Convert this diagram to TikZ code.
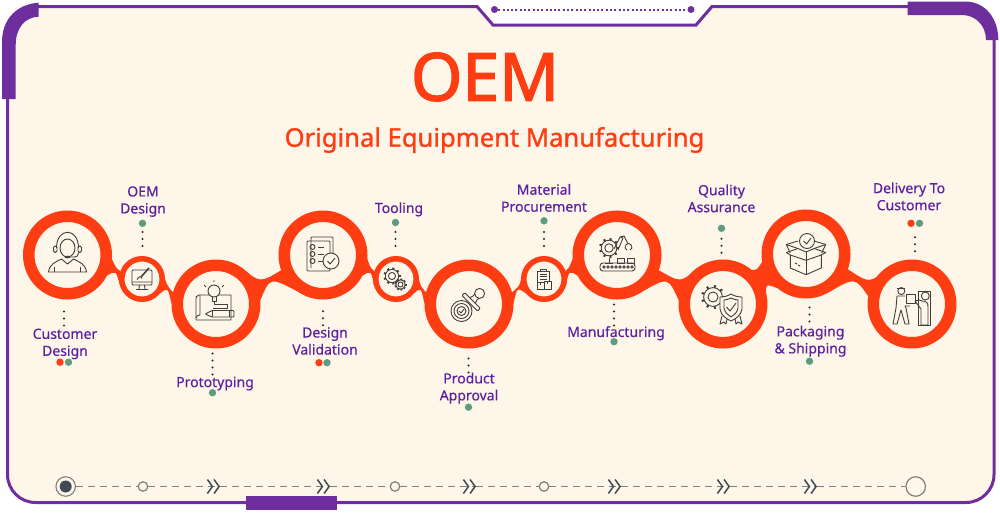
\documentclass[tikz,border=0pt]{standalone}
\usepackage{fontspec}
\usepackage{tikz}
\usetikzlibrary{arrows.meta, positioning, backgrounds}
\setmainfont{Noto Sans}
\newfontfamily\lblfont[FakeBold=0.45]{Noto Sans}
\newfontfamily\titlefont[FakeBold=2.2]{Noto Sans}
\newfontfamily\subtitlefont[FakeBold=1.1]{Noto Sans}
\definecolor{RingRed}{HTML}{FF3D12}
\definecolor{FramePurple}{HTML}{6E2E9E}
\definecolor{TextPurple}{HTML}{5B21A0}
\definecolor{SoftCream}{HTML}{FEF6E8}
\definecolor{DotGreen}{HTML}{5E9C82}
\definecolor{IconGray}{HTML}{3F3F3F}
\definecolor{TrackGray}{HTML}{7F7F7F}
\definecolor{TrackDark}{HTML}{3F4A55}
\tikzset{
  bigring/.style={circle, draw=RingRed, fill=SoftCream, line width=11.5pt, minimum size=77.5pt, inner sep=0pt},
  smallring/.style={circle, draw=RingRed, fill=SoftCream, line width=5.5pt, minimum size=40.5pt, inner sep=0pt},
  neck/.style={fill=RingRed},
  lbl/.style={text=TextPurple, align=center, inner sep=0pt, font=\lblfont\fontsize{14}{17}\selectfont},
  greendot/.style={circle, fill=DotGreen, minimum size=7.4pt, inner sep=0pt},
  reddot/.style={circle, fill=RingRed, minimum size=7.4pt, inner sep=0pt},
  dotlink/.style={line width=2.3pt, line cap=round, dash pattern=on 0pt off 7pt, black!85},
  icon/.style={draw=IconGray, line width=0.9pt, line join=round},
  framepath/.style={draw=FramePurple, line width=3pt, fill=SoftCream},
  trackline/.style={TrackGray, line width=1.8pt, dash pattern=on 7pt off 5pt},
  chevron/.style={-{Straight Barb[length=5pt, width=14pt, line width=1.5pt, color=TrackDark] Straight Barb[length=5pt, width=14pt, line width=1.5pt, color=TrackDark]}},
  tracknode/.style={circle, draw=TrackGray, fill=SoftCream, line width=1.2pt, minimum size=9.5pt, inner sep=0pt},
  pics/cog/.style={code={
    \draw[icon] (0,0) circle ({#1*.42});
    \draw[icon] (0,0) circle ({#1*.78});
    \foreach \a in {0,40,...,320} \draw[IconGray, line width=2pt] (\a:{#1*.78}) -- (\a:{#1});
  }}
}
\newcommand{\neckfill}[8]{\fill[neck] (#1.#3) .. controls #5 .. (#2.#4) -- (#2.#6) .. controls #8 .. (#1.#7) -- cycle;}
\begin{document}
\begin{tikzpicture}[x=1pt, y=-1pt]
  \useasboundingbox (0,0) rectangle (1000,512);
  \node[bigring] (cust) at (67.5,255) {};
  \node[smallring] (oem) at (142,279) {};
  \node[bigring] (proto) at (216,304) {};
  \node[bigring] (dv) at (323,255) {};
  \node[smallring] (tool) at (396,279) {};
  \node[bigring] (prod) at (469,304) {};
  \node[smallring] (mat) at (544,279) {};
  \node[bigring] (manuf) at (617,255) {};
  \node[bigring] (qa) at (723,304) {};
  \node[bigring] (pack) at (806,254) {};
  \node[bigring] (del) at (912,304) {};

  \begin{scope}[on background layer]
    \draw[framepath] (477,6.5) -- (493,25) -- (696,25) -- (712,6.5) [rounded corners=28pt] -- (994,6.5) -- (994,502.5) -- (7.5,502.5) -- (7.5,6.5) [sharp corners] -- (477,6.5) -- cycle;
    \neckfill{cust}{oem}{-5}{160}{(116,268)}{200}{-28}{(116,270)}
    \neckfill{oem}{proto}{0}{165}{(167.5,286)}{180}{-40}{(168,287)}
    \neckfill{proto}{dv}{55}{200}{(260,283)}{-125}{5}{(270,277)}
    \neckfill{dv}{tool}{-5}{160}{(370.5,268)}{200}{-28}{(371,270)}
    \neckfill{tool}{prod}{0}{165}{(420.5,286)}{180}{-40}{(421,287)}
    \neckfill{prod}{mat}{15}{180}{(519.5,286)}{220}{0}{(517,287)}
    \neckfill{mat}{manuf}{20}{185}{(569,268)}{208}{-20}{(569,270)}
    \neckfill{manuf}{qa}{-20}{125}{(681,283)}{175}{-55}{(668,277)}
    \neckfill{qa}{pack}{50}{190}{(757,270)}{-130}{15}{(766,284)}
    \neckfill{pack}{del}{-20}{120}{(870,284)}{170}{-60}{(855,277)}
  \end{scope}

  % frame pieces
  \fill[FramePurple] (2,99) -- (2,42) .. controls (2,18) and (18,4) .. (38.7,2.7) -- (38.7,16.7) .. controls (25,17) and (15.7,28) .. (15.7,45) -- (15.7,99) -- cycle;
  \fill[FramePurple] (907.7,1.5) -- (965,1.5) .. controls (985,1.5) and (998.3,18) .. (998.3,40) -- (986,40) .. controls (986,25) and (975,15) .. (962,15) -- (907.7,15) -- cycle;
  \fill[FramePurple] (246,496) rectangle (337,510);
  \node[circle, fill=FramePurple, minimum size=7pt, inner sep=0pt] (notchl) at (494.5,9.5) {};
  \node[circle, fill=FramePurple, minimum size=7pt, inner sep=0pt] (notchr) at (691,9.5) {};
  \draw[FramePurple, line width=2pt, dash pattern=on 2pt off 2.3pt] (notchl) -- (notchr);

  \node[text=RingRed, inner sep=0pt, font=\titlefont\fontsize{66}{66}\selectfont] (title) at (485,77) {OEM};
  \node[text=RingRed, inner sep=0pt, font=\subtitlefont\fontsize{25.6}{28}\selectfont] (subtitle) at (494.5,140) {Original Equipment Manufacturing};

  \node[lbl, below=29pt of cust.south, xshift=-2.5pt] (lcust) {Customer\\Design};
  \node[lbl, above=39pt of oem.north, xshift=1pt] (loem) {OEM\\Design};
  \node[lbl, below=28pt of proto.south, xshift=-1pt] (lproto) {Prototyping};
  \node[lbl, below=27.5pt of dv.south, xshift=2pt] (ldv) {Design\\Validation};
  \node[lbl, above=39.5pt of tool.north, xshift=3pt] (ltool) {Tooling};
  \node[lbl, below=24pt of prod.south] (lprod) {Product\\Approval};
  \node[lbl, above=44pt of mat.north] (lmat) {Material\\Procurement};
  \node[lbl, below=26.5pt of manuf.south, xshift=-1pt] (lmanuf) {Manufacturing};
  \node[lbl, above=47pt of qa.north, xshift=-1.5pt] (lqa) {Quality\\Assurance};
  \node[lbl, below=27pt of pack.south, xshift=4.5pt] (lpack) {Packaging\\\& Shipping};
  \node[lbl, above=49pt of del.north, xshift=-3pt] (ldel) {Delivery To\\Customer};

  \node[reddot, below=58.8pt of cust.south, xshift=-7.5pt] (rcust) {};
  \node[greendot, below=58.8pt of cust.south, xshift=1pt] (gcust) {};
  \node[greendot, above=28.8pt of oem.north, xshift=.5pt] (goem) {};
  \node[greendot, below=40.3pt of proto.south, xshift=-3.5pt] (gproto) {};
  \node[reddot, below=59.3pt of dv.south, xshift=-4pt] (rdv) {};
  \node[greendot, below=59.3pt of dv.south, xshift=4pt] (gdv) {};
  \node[greendot, above=29.6pt of tool.north, xshift=-.5pt] (gtool) {};
  \node[greendot, below=54.8pt of prod.south, xshift=-.5pt] (gprod) {};
  \node[greendot, above=31.3pt of mat.north] (gmat) {};
  \node[greendot, below=38.3pt of manuf.south, xshift=-3pt] (gmanuf) {};
  \node[greendot, above=27.3pt of qa.north, xshift=-1.5pt] (gqa) {};
  \node[greendot, below=58.8pt of pack.south, xshift=3.5pt] (gpack) {};
  \node[reddot, above=32.3pt of del.north, xshift=-1pt] (rdel) {};
  \node[greendot, above=32.3pt of del.north, xshift=7.5pt] (gdel) {};

  \draw[dotlink] (cust.south -| lcust) ++(-1,12) -- ++(0,14.5);
  \draw[dotlink] (oem.north -| goem) ++(0,-10) -- ++(0,-14.5);
  \draw[dotlink] (proto.south -| gproto) ++(0,5) -- ++(0,21.5);
  \draw[dotlink] (dv.south) ++(0,11.7) -- ++(0,14.5);
  \draw[dotlink] (tool.north -| gtool) ++(0,-10) -- ++(0,-14.5);
  \draw[dotlink] (prod.south -| gprod) ++(0,10) -- ++(0,14.5);
  \draw[dotlink] (mat.north -| gmat) ++(0,-10) -- ++(0,-14.5);
  \draw[dotlink] (manuf.south -| gmanuf) ++(0,5) -- ++(0,21.5);
  \draw[dotlink] (qa.north -| gqa) ++(0,-6.7) -- ++(0,-14.5);
  \draw[dotlink] (pack.south -| gpack) ++(0,9) -- ++(0,14.5);
  \draw[dotlink] (del.north) ++(3,-8.3) -- ++(0,-14.5);

  % icons, local y points up
  \begin{scope}[shift={(cust)}, y=1pt]
    \draw[icon] (0,7) ellipse (7.5 and 9);
    \draw[icon] (-11,7) .. controls (-11,28) and (11,28) .. (11,7);
    \draw[icon, rounded corners=1.5] (-14,2.5) rectangle (-10.5,9);
    \draw[icon, rounded corners=1.5] (10.5,2.5) rectangle (14,9);
    \draw[icon] (11,2.5) .. controls (10,-2) .. (3,-2);
    \fill[IconGray] (0,-2) ellipse (3 and 1.3);
    \draw[icon] (-19,-17) .. controls (-18,-9) and (-12,-7) .. (-6,-4) -- (0,-9) -- (6,-4) .. controls (12,-7) and (18,-9) .. (19,-17) -- cycle;
    \draw[icon] (-13,-17) -- (-13,-12) (13,-17) -- (13,-12);
  \end{scope}
  \begin{scope}[shift={(oem)}, y=1pt]
    \draw[icon, rounded corners=1] (-10,-6) rectangle (10,9);
    \draw[icon] (-10,-3) -- (10,-3) (-2.5,-6) -- (-3,-10) (2.5,-6) -- (3,-10) (-6,-10.5) -- (6,-10.5);
    \draw[IconGray, line width=1.6pt] (-1,2) -- (7,11);
    \draw[icon] (-5,-0.5) .. controls (-3,3) and (-1,3) .. (0,0.5);
  \end{scope}
  \begin{scope}[shift={(proto)}, y=1pt]
    \draw[icon] (-6,9) -- (-17,9) .. controls (-20,9) and (-20,6) .. (-20,5) -- (-20,-16) -- (15,-16) -- (15,9) -- (3,9);
    \draw[icon] (-16,9) -- (-16,-11) .. controls (-18,-11) and (-20,-12) .. (-20,-14);
    \draw[icon] (-2,13) circle (6);
    \draw[icon] (-4,7) -- (-4,3) -- (0,3) -- (0,7);
    \draw[icon] (-2,3) -- (-2,0) -- (11,0) -- (11,-4) -- (-3,-4);
    \draw[icon] (-2,22) -- (-2,24) (-10,17) -- (-12,19) (6,17) -- (8,19);
    \draw[icon, rounded corners=1] (18,-6.5) -- (-4,-6.5) -- (-11,-10) -- (-4,-13) -- (18,-13) -- cycle;
    \draw[icon] (13,-6.5) -- (13,-13) (-4,-6.5) -- (-4,-13);
  \end{scope}
  \begin{scope}[shift={(dv)}, y=1pt]
    \draw[icon, rounded corners=1] (-12,-13) -- (-12,18) -- (10,18) -- (10,2);
    \draw[icon, rounded corners=1] (-16,-16) rectangle (7,14);
    \foreach \yy in {8,1,-6} {
      \draw[icon] (-10.5,\yy) circle (2.5);
      \draw[icon] (-5,\yy) -- (1,\yy);
    }
    \draw[icon, fill=SoftCream] (8,-6) circle (8);
    \draw[icon] (4.5,-6) -- (7,-9) -- (12,-3);
  \end{scope}
  \begin{scope}[shift={(tool)}, y=1pt]
    \pic at (-4,3) {cog=8.5};
    \pic at (4.5,-5.5) {cog=6};
  \end{scope}
  \begin{scope}[shift={(prod)}, y=1pt]
    \draw[icon] (-7.5,-7) circle (10.5);
    \draw[icon] (-7.5,-7) circle (7.5);
    \draw[icon] (-7.5,-7) circle (4.5);
    \draw[icon] (-10,-7) -- (-8,-9) -- (-5,-5);
    \begin{scope}[rotate=45, shift={(-1,0)}]
      \draw[icon, rounded corners=1] (2,-11) rectangle (6,11);
      \draw[icon] (6,-4) .. controls (9,-3) and (10,-2) .. (12,-3) (6,4) .. controls (9,3) and (10,2) .. (12,3);
      \draw[icon] (16,0) circle (5);
    \end{scope}
  \end{scope}
  \begin{scope}[shift={(mat)}, y=1pt]
    \draw[icon] (-7,-10) rectangle (5,8);
    \draw[icon] (-4,8) rectangle (2,10);
    \draw[icon] (-4.5,5) -- (2.5,5) (-4.5,2.5) -- (2.5,2.5) (-4.5,0) -- (2.5,0);
    \draw[icon, fill=SoftCream] (-7,-10) rectangle (0,-3);
    \draw[icon, fill=SoftCream] (0,-10) rectangle (7.5,-2);
    \draw[icon] (-4,-3) -- (-4,-6) (3.5,-2) -- (3.5,-5);
  \end{scope}
  \begin{scope}[shift={(manuf)}, y=1pt]
    \pic at (-8,7) {cog=10};
    \draw[icon, rounded corners=3] (-17,-16) rectangle (18,-8);
    \foreach \xx in {-13,-9,...,15} \draw[icon] (\xx,-12) circle (1.2);
    \draw[icon] (-8,-3) -- (-8,-8) (-12,-8) -- (-4,-8);
    \draw[icon] (0,-8) rectangle (7,-3) (10,-8) rectangle (17,-3);
    \draw[icon] (-3,6) -- (3,18) -- (6,17) -- (1,5) (3,18) -- (7,19) -- (11,11);
    \draw[icon] (8,7) .. controls (8,13) and (15,13) .. (15,7) (8,7) -- (10,5) (15,7) -- (13,5);
  \end{scope}
  \begin{scope}[shift={(qa)}, y=1pt]
    \pic at (-10,7) {cog=12};
    \draw[icon, fill=SoftCream] (8,10) .. controls (11,8) and (15,7) .. (19,7) -- (19,-5) .. controls (18,-12) and (12,-15) .. (8,-17) .. controls (4,-15) and (-2,-12) .. (-3,-5) -- (-3,7) .. controls (1,7) and (5,8) .. (8,10) -- cycle;
    \draw[icon] (8,6) .. controls (10,5) and (13,4) .. (15,4) -- (15,-4) .. controls (14,-9) and (11,-11) .. (8,-13) .. controls (5,-11) and (2,-9) .. (1,-4) -- (1,4) .. controls (3,4) and (6,5) .. (8,6);
    \draw[icon] (3.5,-3) -- (7,-7) -- (13,1);
    \draw[icon] (-1,-12) -- (-3,-20) -- (1,-18) -- (3,-20) -- (4,-15);
    \draw[icon] (12,-15) -- (13,-20) -- (15,-18) -- (19,-20) -- (17,-12);
  \end{scope}
  \begin{scope}[shift={(pack)}, y=1pt]
    \draw[icon] (-15.7,-1) -- (-15.7,-14) -- (0,-20.7) -- (15.3,-14) -- (15.3,-1);
    \draw[icon] (0,-20.7) -- (0,-6.3);
    \draw[icon] (-19.7,1.5) -- (-15.7,-1) -- (0,-6.3) -- (15.3,-1) -- (19.7,1.5) -- (8,5.5) -- (0,2) -- (-8,5.5) -- cycle;
    \draw[icon] (-8,5.5) -- (-19.7,9.5) -- (-15.7,1) (8,5.5) -- (19.7,9.5) -- (15.7,1);
    \draw[icon] (0,2) -- (0,-6.3);
    \draw[icon] (-8,13) -- (-19.7,9.5) (8,13) -- (19.7,9.5);
    \draw[icon, fill=SoftCream] (1,13) circle (7.5);
    \draw[icon] (-2.5,13) -- (0.5,10) -- (5,16);
    \draw[icon] (-8,-11) -- (-6,-12) (-11,-9) -- (-9,-10);
  \end{scope}
  \begin{scope}[shift={(del)}, y=1pt]
    \draw[icon] (-10.7,13) circle (3.5);
    \draw[icon] (-15,15.5) -- (-7,15.5);
    \draw[icon] (-7,8) -- (-15,8) -- (-16,-4) -- (-19,-20) -- (-15,-20) -- (-11,-6) -- (-7,-20) -- (-3,-20) -- (-6,-4) -- (-7,-2) -- (-2,-2);
    \draw[icon] (-6,1) rectangle (3,10);
    \draw[icon] (6,-21) -- (6,13) -- (18.3,13) -- (18.3,-21) -- cycle;
    \draw[icon] (13.3,8) circle (4);
    \draw[icon] (9,-21) -- (9,-5) -- (6,-1) -- (3,3) -- (7,4) -- (10,3) .. controls (15,3) and (16,1) .. (16,-3) -- (16,-21) -- cycle;
  \end{scope}

  \node[circle, draw=TrackGray, fill=SoftCream, line width=1.1pt, minimum size=19.5pt, inner sep=0pt] (t0) at (65.7,486.5) {};
  \fill[TrackDark] (t0) circle (6);
  \node[tracknode] (t1) at (143,486.5) {};
  \coordinate (c1) at (220,486.5);
  \coordinate (c2) at (330,486.5);
  \node[tracknode] (t2) at (395,486.5) {};
  \coordinate (c3) at (476,486.5);
  \node[tracknode] (t3) at (544,486.5) {};
  \coordinate (c4) at (621,486.5);
  \coordinate (c5) at (730,486.5);
  \coordinate (c6) at (817,486.5);
  \node[circle, draw=TrackGray, fill=SoftCream, line width=1.2pt, minimum size=19.5pt, inner sep=0pt] (t4) at (915.7,486.5) {};

  \draw[trackline] (t0) -- (t1);
  \draw[trackline, chevron] (t1) -- (c1);
  \draw[trackline, chevron] (c1) -- (c2);
  \draw[trackline] (c2) -- (t2);
  \draw[trackline, chevron] (t2) -- (c3);
  \draw[trackline] (c3) -- (t3);
  \draw[trackline, chevron] (t3) -- (c4);
  \draw[trackline, chevron] (c4) -- (c5);
  \draw[trackline, chevron] (c5) -- (c6);
  \draw[trackline] (c6) -- (t4);
\end{tikzpicture}
\end{document}
